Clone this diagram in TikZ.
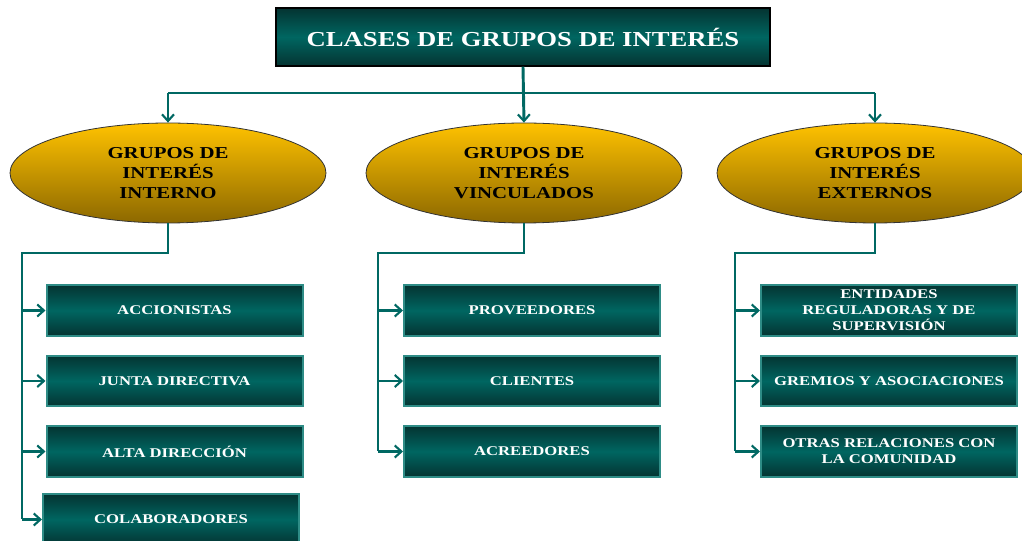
\documentclass[tikz,border=0pt]{standalone}
\usepackage{fontspec}
\setmainfont[FakeStretch=1.25]{Liberation Serif}
\usetikzlibrary{shapes.geometric,arrows.meta}

\definecolor{tealdark}{RGB}{4,52,50}
\definecolor{tealmid}{RGB}{0,102,97}
\definecolor{tealline}{RGB}{0,104,99}
\definecolor{tealedge}{RGB}{46,140,134}
\definecolor{goldtop}{RGB}{255,194,0}
\definecolor{goldbot}{RGB}{140,104,0}

\tikzset{
  titlebox/.style={draw=black,line width=1.5pt,top color=tealdark,bottom color=tealdark,middle color=tealmid,
    minimum width=370pt,minimum height=43pt,text=white,font=\bfseries\fontsize{16}{19}\selectfont},
  grupo/.style={ellipse,draw=black!80,line width=0.6pt,top color=goldtop,bottom color=goldbot,
    minimum width=237pt,minimum height=75pt,inner sep=0pt,align=center,font=\bfseries\fontsize{12.5}{15}\selectfont},
  caja/.style={draw=tealedge,line width=1.5pt,top color=tealdark,bottom color=tealdark,middle color=tealmid,
    minimum width=192pt,minimum height=38pt,inner sep=1pt,align=center,text=white,font=\bfseries\fontsize{10}{12}\selectfont},
  link/.style={draw=tealline,line width=2.2pt},
  arr/.style={link,-{Straight Barb[length=5pt,width=9pt,line width=1.6pt]}}
}

\begin{document}
\begin{tikzpicture}[x=0.75pt,y=0.75pt,yscale=-1,xscale=1]
	\useasboundingbox (0,0) rectangle (1022,541);
	\clip (0,0) rectangle (1022,541);

	% Title
	\node [titlebox] (titulo) at (523,37) {CLASES DE GRUPOS DE INTERÉS};

	% Ellipses
	\node [grupo] (interno) at (168,173) {GRUPOS DE\\INTERÉS\\INTERNO};
	\node [grupo] (vinculado) at (524,173) {GRUPOS DE\\INTERÉS\\VINCULADOS};
	\node [grupo] (externo) at (875,173) {GRUPOS DE\\INTERÉS\\EXTERNOS};

	% Boxes, left column
	\node [caja] (accion) at (174.5,310.5) {ACCIONISTAS};
	\node [caja] (junta) at (174.5,381) {JUNTA DIRECTIVA};
	\node [caja] (alta) at (174.5,451.5) {ALTA DIRECCIÓN};
	\node [caja] (colab) at (171,519.5) {COLABORADORES};
	% Boxes, middle column
	\node [caja] (prov) at (532,310.5) {PROVEEDORES};
	\node [caja] (clien) at (532,381) {CLIENTES};
	\node [caja] (acree) at (532,451.5) {ACREEDORES};
	% Boxes, right column
	\node [caja] (entid) at (889,310.5) {ENTIDADES\\REGULADORAS Y DE\\SUPERVISIÓN};
	\node [caja] (gremio) at (889,381) {GREMIOS Y ASOCIACIONES};
	\node [caja] (otras) at (889,451.5) {OTRAS RELACIONES CON\\LA COMUNIDAD};

	% Top connectors
	\coordinate (topL) at (168,93);
	\coordinate (topR) at (875,93);
	\draw [link] (topL) -- (topR);
	\draw [arr] (titulo.south) -- (vinculado.north);
	\draw [arr] (topL) -- (interno.north);
	\draw [arr] (topR) -- (externo.north);

	% Left bus
	\coordinate (busA) at (22,253);
	\draw [link] (interno.south) |- (busA) -- (busA |- colab.west);
	\foreach \n in {accion,junta,alta,colab}
		\draw [arr] (busA |- \n.west) -- (\n.west);

	% Middle bus
	\coordinate (busB) at (378,253);
	\draw [link] (vinculado.south) |- (busB) -- (busB |- acree.west);
	\foreach \n in {prov,clien,acree}
		\draw [arr] (busB |- \n.west) -- (\n.west);

	% Right bus
	\coordinate (busC) at (735,253);
	\draw [link] (externo.south) |- (busC) -- (busC |- otras.west);
	\foreach \n in {entid,gremio,otras}
		\draw [arr] (busC |- \n.west) -- (\n.west);

\end{tikzpicture}
\end{document}
